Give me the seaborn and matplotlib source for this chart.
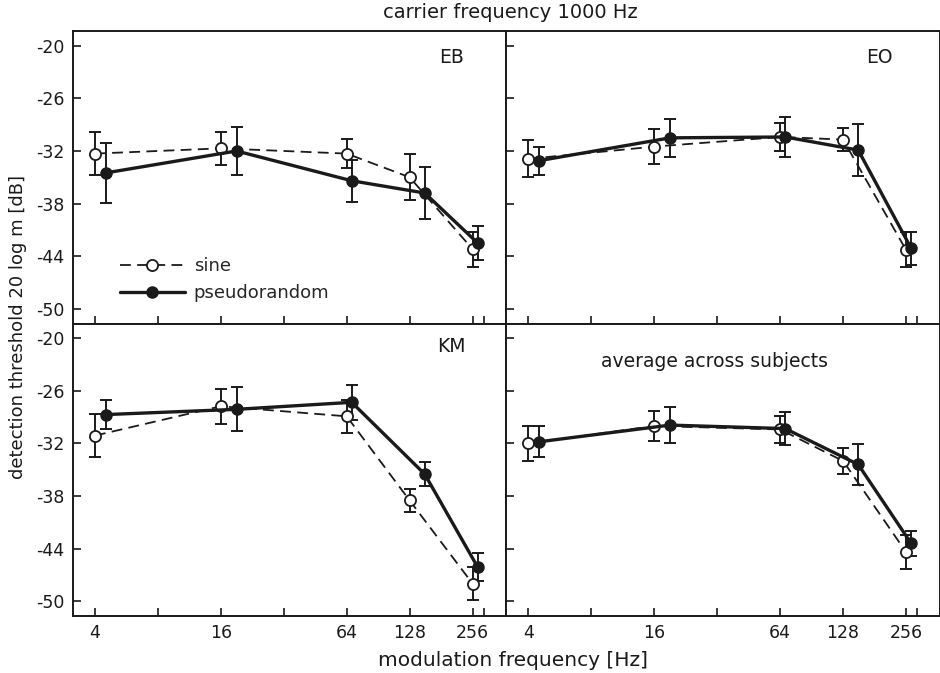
import numpy as np
import pandas as pd
import matplotlib
matplotlib.use("Agg")
import matplotlib.pyplot as plt
import seaborn as sns
from matplotlib.lines import Line2D
from matplotlib.ticker import NullFormatter, FixedFormatter

# ---------------- data ----------------
freqs = [4, 16, 64, 128, 256]
panels = ["EB", "EO", "KM", "average across subjects"]

sine_EB = [-32.3, -31.7, -32.3, -35.0, -43.2]
sine_EB_err = [2.5, 1.9, 1.7, 2.6, 2.0]
pr_EB = [-34.5, -32.0, -35.4, -36.8, -42.5]
pr_EB_err = [3.4, 2.7, 2.4, 3.0, 1.9]

sine_EO = [-32.9, -31.5, -30.4, -30.7, -43.3]
sine_EO_err = [2.1, 2.0, 1.65, 1.35, 2.0]
pr_EO = [-33.1, -30.5, -30.4, -31.9, -43.1]
pr_EO_err = [1.6, 2.15, 2.3, 3.0, 1.9]

sine_KM = [-31.1, -27.75, -28.9, -38.5, -48.0]
sine_KM_err = [2.45, 2.0, 1.9, 1.35, 1.9]
pr_KM = [-28.7, -28.1, -27.3, -35.5, -46.1]
pr_KM_err = [1.65, 2.5, 2.0, 1.35, 1.6]

sine_AVG = [-32.0, -30.0, -30.4, -34.0, -44.4]
sine_AVG_err = [2.0, 1.7, 1.5, 1.5, 1.9]
pr_AVG = [-31.8, -29.9, -30.3, -34.4, -43.4]
pr_AVG_err = [1.8, 2.1, 1.9, 2.35, 1.45]

x_tick_labels = ["4", "16", "64", "128", "256"]
y_ticks = [-20, -26, -32, -38, -44, -50]

# horizontal dodge of the pseudorandom points (in octaves), for legibility
pr_dodge_oct = [0.175, 0.25, 0.08, 0.24, 0.08]

sine_sets = {"EB": (sine_EB, sine_EB_err), "EO": (sine_EO, sine_EO_err),
             "KM": (sine_KM, sine_KM_err), "average across subjects": (sine_AVG, sine_AVG_err)}
pr_sets = {"EB": (pr_EB, pr_EB_err), "EO": (pr_EO, pr_EO_err),
           "KM": (pr_KM, pr_KM_err), "average across subjects": (pr_AVG, pr_AVG_err)}

rows = []
for p in panels:
    for i, f in enumerate(freqs):
        rows.append(dict(panel=p, series="sine", freq=f, xpos=f,
                         value=sine_sets[p][0][i], err=sine_sets[p][1][i]))
        rows.append(dict(panel=p, series="pseudorandom", freq=f,
                         xpos=f * 2 ** pr_dodge_oct[i],
                         value=pr_sets[p][0][i], err=pr_sets[p][1][i]))
df = pd.DataFrame(rows)

# ---------------- style ----------------
sns.set_theme(style="white")
plt.rcParams["font.family"] = ["DejaVu Sans"]
plt.rcParams["font.size"] = 12.5
ink = "#1a1a1a"

fig = plt.figure(figsize=(9.4, 6.73), dpi=100)
gs = fig.add_gridspec(2, 2, left=73 / 940, right=1.0, top=1 - 31 / 673,
                      bottom=1 - 616 / 673, wspace=0, hspace=0)
axes = [fig.add_subplot(gs[r, c]) for r in range(2) for c in range(2)]

xlim = (4 * 2 ** (-22 / 63), 256 * 2 ** (34 / 63))
ylim = (-51.7, -18.3)

label_pos = {"EB": (0.873, 0.908), "EO": (0.86, 0.908), "KM": (0.873, 0.921),
             "average across subjects": (0.48, 0.87)}

for k, (ax, p) in enumerate(zip(axes, panels)):
    d = df[df.panel == p]
    ds = d[d.series == "sine"]
    dp = d[d.series == "pseudorandom"]
    ax.set_xscale("log", base=2)

    ax.errorbar(ds.xpos, ds.value, yerr=ds.err, fmt="none", ecolor=ink,
                elinewidth=1.4, capsize=4, capthick=1.4, zorder=2)
    ax.errorbar(dp.xpos, dp.value, yerr=dp.err, fmt="none", ecolor=ink,
                elinewidth=1.4, capsize=4, capthick=1.4, zorder=3)

    sns.lineplot(data=ds, x="xpos", y="value", ax=ax, sort=False, estimator=None,
                 color=ink, linewidth=1.3, linestyle=(0, (6, 3.5)), marker="o",
                 markersize=8, markerfacecolor="white", markeredgecolor=ink,
                 markeredgewidth=1.3, zorder=4)
    sns.lineplot(data=dp, x="xpos", y="value", ax=ax, sort=False, estimator=None,
                 color=ink, linewidth=2.4, linestyle="-", marker="o",
                 markersize=8, markerfacecolor=ink, markeredgecolor=ink,
                 markeredgewidth=1.0, zorder=5)

    ax.set_xlim(*xlim)
    ax.set_ylim(*ylim)
    ax.set_xticks(freqs)
    ax.set_xticks([8, 32, 290], minor=True)
    ax.xaxis.set_minor_formatter(NullFormatter())
    ax.set_yticks(y_ticks)
    ax.tick_params(axis="both", which="both", direction="in", length=6, width=1.2,
                   color=ink, labelsize=12.5, labelcolor=ink, pad=6,
                   bottom=True, left=True, top=False, right=False)
    if k >= 2:
        ax.xaxis.set_major_formatter(FixedFormatter(x_tick_labels))
    else:
        ax.xaxis.set_major_formatter(NullFormatter())
    if k % 2 == 1:
        ax.yaxis.set_major_formatter(NullFormatter())
    else:
        ax.yaxis.set_major_formatter(FixedFormatter([f"{v}" for v in y_ticks]))
    ax.set_xlabel("")
    ax.set_ylabel("")
    for s in ax.spines.values():
        s.set_visible(True)
        s.set_color(ink)
        s.set_linewidth(1.4)

    lx, ly = label_pos[p]
    ax.text(lx, ly, p, transform=ax.transAxes, ha="center", va="center",
            fontsize=13.5, color=ink)

# legend in first panel
h_sine = Line2D([], [], color=ink, lw=1.3, ls=(0, (6, 3.5)), marker="o", ms=8,
                mfc="white", mec=ink, mew=1.3)
h_pr = Line2D([], [], color=ink, lw=2.4, ls="-", marker="o", ms=8, mfc=ink, mec=ink)
axes[0].legend([h_sine, h_pr], ["sine", "pseudorandom"], loc="center left",
               bbox_to_anchor=(0.07, 0.15), frameon=False, handlelength=3.6,
               handletextpad=0.5, labelspacing=0.5, fontsize=13)

fig.text(510 / 940, 1 - 13 / 673, "carrier frequency 1000 Hz", ha="center", va="center",
         fontsize=14, color=ink)
fig.text(513 / 940, 1 - 660 / 673, "modulation frequency [Hz]", ha="center", va="center",
         fontsize=14.5, color=ink)
fig.text(18 / 940, 1 - 327 / 673, "detection threshold 20 log m [dB]", ha="center",
         va="center", rotation=90, fontsize=13, color=ink)

fig.savefig("out.png", dpi=100)
